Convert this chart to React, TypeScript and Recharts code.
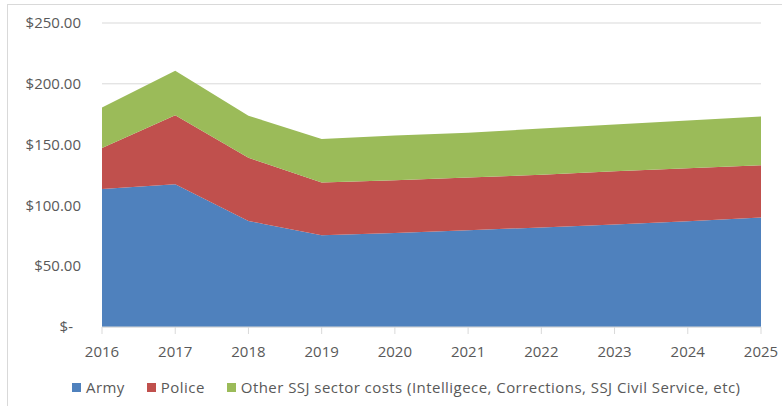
import React from "react";
import { AreaChart, Area, XAxis, YAxis, CartesianGrid, Legend } from "recharts";

const years = ["2016", "2017", "2018", "2019", "2020", "2021", "2022", "2023", "2024", "2025"];
const army = [113.5, 117.4, 87.2, 75.5, 77.3, 79.6, 81.9, 84.2, 87.0, 90.0];
const police = [33.8, 56.8, 51.9, 43.3, 43.4, 43.4, 43.3, 43.8, 43.6, 43.1];
const other = [33.3, 36.5, 34.6, 35.9, 36.8, 36.7, 38.1, 38.5, 39.2, 40.1];
const yTicks = [0, 50, 100, 150, 200, 250];

const seriesNames = ["Army", "Police", "Other SSJ sector costs (Intelligece, Corrections, SSJ Civil Service, etc)"];
const colors = ["#4f81bd", "#c0504d", "#9bbb59"];

const data = years.map((y, i) => ({ year: y, army: army[i], police: police[i], other: other[i] }));

const FONT = "'Open Sans', 'Liberation Sans', sans-serif";
const TEXT = "#595959";

const YTick = (props: any) => {
  const { x, y, payload } = props;
  const v = payload.value;
  const label = v === 0 ? "$-" : "$" + v.toFixed(2);
  return (
    <text x={v === 0 ? x - 8 : x} y={y} dy="0.35em" textAnchor="end" fill={TEXT} fontSize={15} fontFamily={FONT}>
      {label}
    </text>
  );
};

const LegendContent = () => (
  <div style={{ display: "flex", alignItems: "center", paddingLeft: 65, height: 24, fontFamily: FONT, fontSize: 15, letterSpacing: 0.45, color: TEXT, whiteSpace: "nowrap" }}>
    {seriesNames.map((n, i) => (
      <div key={n} style={{ display: "flex", alignItems: "center", marginRight: 22 }}>
        <span style={{ display: "inline-block", width: 9, height: 9, background: colors[i], marginRight: 5 }} />
        <span>{n}</span>
      </div>
    ))}
  </div>
);

export default function App() {
  return (
    <div style={{ position: "fixed", left: 7, top: 4, width: 800, height: 420, border: "1px solid #d9d9d9", boxSizing: "border-box", background: "#fff" }}>
      <div style={{ position: "absolute", left: -1, top: -1 }}>
        <AreaChart width={775} height={402} data={data} margin={{ top: 19, right: 21, bottom: 7, left: 20 }}>
          <CartesianGrid vertical={false} stroke="#d9d9d9" />
          <XAxis
            dataKey="year"
            tickSize={7}
            tickMargin={12}
            stroke="#d9d9d9"
            tick={{ fill: TEXT, fontSize: 15, fontFamily: FONT }}
            height={48}
            interval={0}
          />
          <YAxis
            domain={[0, 250]}
            ticks={yTicks}
            axisLine={false}
            tickLine={false}
            tickSize={0}
            tickMargin={21}
            width={75}
            tick={<YTick />}
          />
          <Legend verticalAlign="bottom" content={<LegendContent />} wrapperStyle={{ left: 0, width: 775 }} />
          <Area type="linear" dataKey="army" name={seriesNames[0]} stackId="1" fill={colors[0]} stroke="none" fillOpacity={1} isAnimationActive={false} />
          <Area type="linear" dataKey="police" name={seriesNames[1]} stackId="1" fill={colors[1]} stroke="none" fillOpacity={1} isAnimationActive={false} />
          <Area type="linear" dataKey="other" name={seriesNames[2]} stackId="1" fill={colors[2]} stroke="none" fillOpacity={1} isAnimationActive={false} />
        </AreaChart>
      </div>
    </div>
  );
}
